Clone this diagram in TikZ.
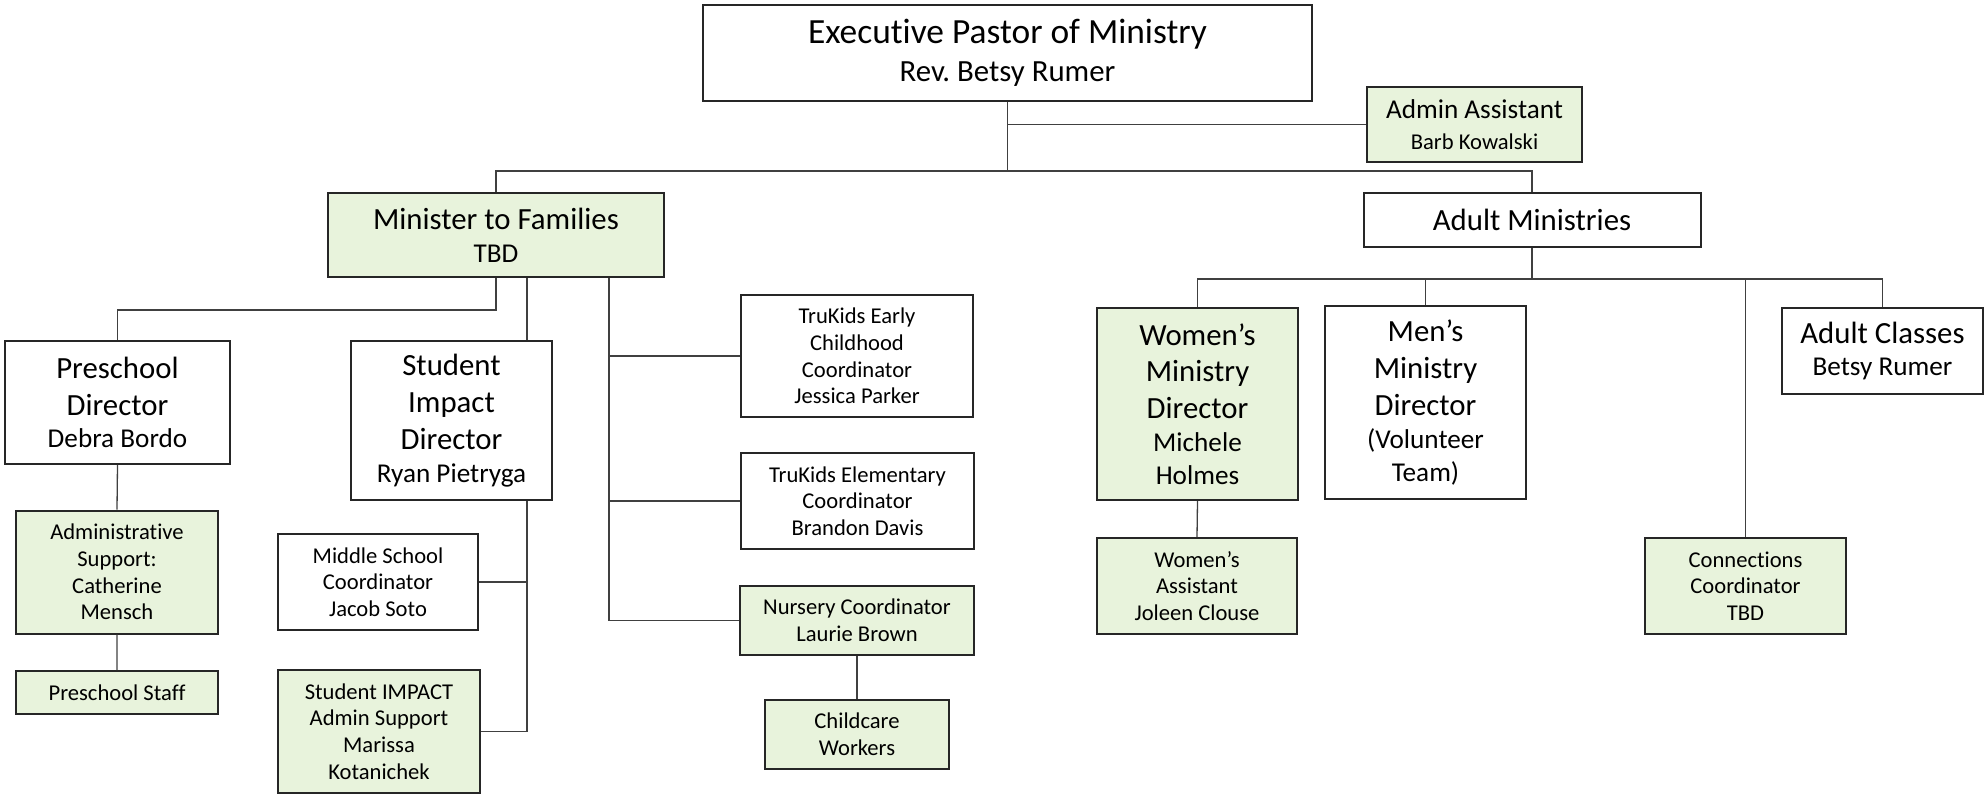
\documentclass[tikz,border=0pt]{standalone}
\usepackage{fontspec}
\setmainfont{Carlito}[Ligatures={TeX,NoCommon}]
\usetikzlibrary{positioning}

\definecolor{leaf}{RGB}{232,243,220}
\newcommand{\ttl}{\fontsize{15.4}{18.4}\selectfont}
\newcommand{\nme}{\fontsize{13.6}{16}\selectfont}
\newcommand{\sml}{\fontsize{11.3}{13.3}\selectfont}
\frenchspacing

\begin{document}
\begin{tikzpicture}[
 x=0.5pt,y=-0.5pt,
 box/.style={draw=black!85,line width=1pt,fill=white,align=center,inner sep=0pt},
 gbox/.style={box,fill=leaf},
 sz/.style 2 args={minimum width=#1*0.5pt,minimum height=#2*0.5pt},
 link/.style={draw=black!75,line width=0.65pt},
 ]
 \useasboundingbox (0,0) rectangle (1986,794);

 % top
 \node[box,sz={609}{96},font=\fontsize{17.7}{20.3}\selectfont] (exec) at (1007.5,53)
 {Executive Pastor of Ministry\\[-1.5pt]{\fontsize{15.4}{18}\selectfont Rev. Betsy Rumer}};
 \node[gbox,sz={215}{75},font=\fontsize{13.6}{15.6}\selectfont] (admin) at (1474.5,124.5)
 {Admin Assistant\\{\sml Barb Kowalski}};
 \node[gbox,sz={336}{84},font=\ttl] (minfam) at (496,235) {Minister to Families\\[-2pt]{\nme TBD}};
 \node[box,sz={337}{54},font=\ttl] (adult) at (1532,220) {Adult Ministries};

 % families
 \node[box,sz={225}{123},font=\ttl] (preschool) at (117.5,402.5) {Preschool\\Director\\[-2pt]{\nme Debra Bordo}};
 \node[box,sz={201}{159},font=\ttl] (student) at (451.5,420.5) {Student\\Impact\\Director\\[-2pt]{\nme Ryan Pietryga}};
 \node[gbox,sz={202}{123},font=\sml] (adminsup) at (117,572) {Administrative\\Support:\\Catherine\\Mensch};
 \node[gbox,sz={202}{43},font=\sml] (staff) at (117,692.5) {Preschool Staff};
 \node[box,sz={200}{96},font=\sml] (middle) at (378,582) {Middle School\\Coordinator\\Jacob Soto};
 \node[gbox,sz={202}{123},font=\sml] (impact) at (379,731.5) {Student IMPACT\\Admin Support\\Marissa\\Kotanichek};
 \node[box,sz={232}{122},font=\sml] (early) at (857,356) {TruKids Early\\Childhood\\Coordinator\\Jessica Parker};
 \node[box,sz={233}{96},font=\sml] (elementary) at (857.5,501) {TruKids Elementary\\Coordinator\\Brandon Davis};
 \node[gbox,sz={234}{69},font=\sml] (nursery) at (857,620.5) {Nursery Coordinator\\Laurie Brown};
 \node[gbox,sz={184}{69},font=\sml] (childcare) at (857,734.5) {Childcare\\Workers};

 % adults
 \node[gbox,sz={201}{192},font=\ttl] (womens) at (1197.5,404) {Women's\\Ministry\\Director\\[-2pt]{\nme Michele}\\[-2pt]{\nme Holmes}};
 \node[box,sz={201}{193},font=\ttl] (mens) at (1425.5,402.5) {Men's\\Ministry\\Director\\[-2pt]{\nme (Volunteer}\\[-2pt]{\nme Team)}};
 \node[box,sz={201}{86},font=\ttl] (classes) at (1882.5,351) {Adult Classes\\[-2pt]{\nme Betsy Rumer}};
 \node[gbox,sz={200}{96},font=\sml] (wassist) at (1197,586) {Women's\\Assistant\\Joleen Clouse};
 \node[gbox,sz={201}{96},font=\sml] (connect) at (1745.5,586) {Connections\\Coordinator\\TBD};

 \coordinate (split) at (1007.5,171);
 \coordinate (studbus) at (527,731.5);
 \coordinate (kidsbus) at (609,620.5);
 \coordinate (adultbar) at (1532,279);

 \draw[link] (exec.south) -- (split);
 \draw[link] (exec.south |- admin.west) -- (admin.west);
 \draw[link] (minfam.north) |- (split) -| (adult.north);

 \draw[link] (minfam.south) -- ++(0,32) -| (preschool.north);
 \draw[link] (preschool.south) -- (adminsup.north) (adminsup.south) -- (staff.north);
 \draw[link] (minfam.south -| studbus) -- (student.north -| studbus);
 \draw[link] (student.south -| studbus) -- (studbus) -- (impact.east);
 \draw[link] (middle.east) -- (middle.east -| studbus);
 \draw[link] (minfam.south -| kidsbus) -- (kidsbus) -- (nursery.west);
 \draw[link] (early.west -| kidsbus) -- (early.west);
 \draw[link] (elementary.west -| kidsbus) -- (elementary.west);
 \draw[link] (nursery.south) -- (childcare.north);

 \draw[link] (adult.south) -- (adultbar);
 \draw[link] (womens.north) |- (adultbar) -| (classes.north);
 \draw[link] (mens.north) -- (mens.north |- adultbar);
 \draw[link] (connect.north) -- (connect.north |- adultbar);
 \draw[link] (womens.south) -- (wassist.north);
\end{tikzpicture}
\end{document}
